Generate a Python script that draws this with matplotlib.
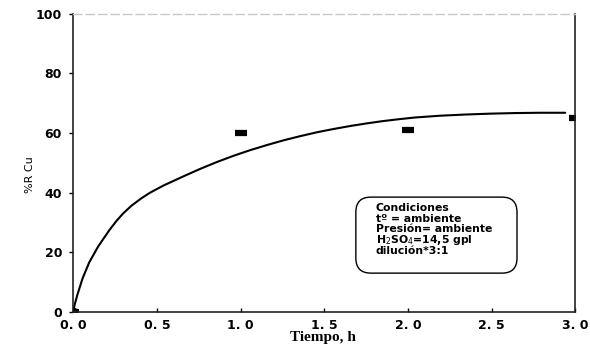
import matplotlib
matplotlib.use("Agg")
import matplotlib.pyplot as plt
from matplotlib.patches import FancyBboxPatch

# measured data points
t_data = [0.0, 1.0, 2.0, 3.0]
r_data = [0.0, 60.0, 60.9, 65.0]

# fitted curve
t_curve = [0.0, 0.008, 0.024, 0.056, 0.096, 0.15, 0.216, 0.26, 0.30, 0.35,
           0.41, 0.46, 0.54, 0.66, 0.76, 0.86, 0.96, 1.06, 1.16, 1.26, 1.36,
           1.46, 1.56, 1.66, 1.75, 1.85, 1.94, 2.04, 2.19, 2.34, 2.49, 2.64,
           2.79, 2.94]
r_curve = [0.0, 2.2, 5.5, 11.2, 16.6, 22.0, 27.4, 30.6, 33.1, 35.7,
           38.2, 40.0, 42.4, 45.5, 48.0, 50.3, 52.4, 54.3, 56.0, 57.6, 59.0,
           60.3, 61.4, 62.4, 63.2, 64.0, 64.6, 65.2, 65.8, 66.2, 66.5, 66.7,
           66.8, 66.8]

x_ticks = [0.0, 0.5, 1.0, 1.5, 2.0, 2.5, 3.0]
x_labels = ["0. 0", "0. 5", "1. 0", "1. 5", "2. 0", "2. 5", "3. 0"]
y_ticks = [0, 20, 40, 60, 80, 100]
y_labels = ["0", "20", "40", "60", "80", "100"]

box_lines = ["Condiciones", "t\u00ba = ambiente", "Presi\u00f3n= ambiente",
             "H$_2$SO$_4$=14,5 gpl", "diluci\u00f3n*3:1"]

fig = plt.figure(figsize=(5.9, 3.45), dpi=100)
ax = fig.add_axes([0.124, 0.096, 0.851, 0.864])

ax.plot(t_curve, r_curve, color="black", lw=1.5, solid_capstyle="round",
        solid_joinstyle="round")
ax.plot(t_data, r_data, linestyle="none", marker="_", markersize=9,
        markeredgewidth=4.5, color="black")
ax.plot([0], [0], marker="o", markersize=6, color="black", linestyle="none")

ax.set_xlim(0, 3.0)
ax.set_ylim(0, 100)
ax.set_xticks(x_ticks)
ax.set_xticklabels(x_labels, fontsize=9, fontweight="bold", family="DejaVu Sans")
ax.set_yticks(y_ticks)
ax.set_yticklabels(y_labels, fontsize=9, fontweight="bold", family="DejaVu Sans")
ax.tick_params(axis="x", direction="in", length=3, width=1, pad=5)
ax.tick_params(axis="y", direction="out", length=3, width=1, pad=5)

for s in ["left", "right", "bottom"]:
    ax.spines[s].set_color("#222222")
    ax.spines[s].set_linewidth(1.2)
ax.spines["top"].set_color("#c8c8c8")
ax.spines["top"].set_linestyle((0, (6, 3)))
ax.spines["top"].set_linewidth(1.0)

ax.set_xlabel("Tiempo, h", fontsize=11, fontweight="bold", family="Liberation Serif")
ax.xaxis.set_label_coords(0.498, -0.064)
ax.set_ylabel("%R Cu", fontsize=8, family="DejaVu Sans")
ax.yaxis.set_label_coords(-0.076, 0.46)

# conditions box (axes coordinates)
box = FancyBboxPatch((0.563, 0.130), 0.321, 0.255,
                     boxstyle="round,pad=0,rounding_size=0.03",
                     mutation_aspect=1.685, transform=ax.transAxes,
                     fc="white", ec="black", lw=1.0)
ax.add_patch(box)
for i, line in enumerate(box_lines):
    ax.text(0.603, 0.349 - i * 0.0361, line, transform=ax.transAxes,
            fontsize=7.8, fontweight="bold", family="DejaVu Sans",
            ha="left", va="center")

fig.savefig("out.png", dpi=100)
